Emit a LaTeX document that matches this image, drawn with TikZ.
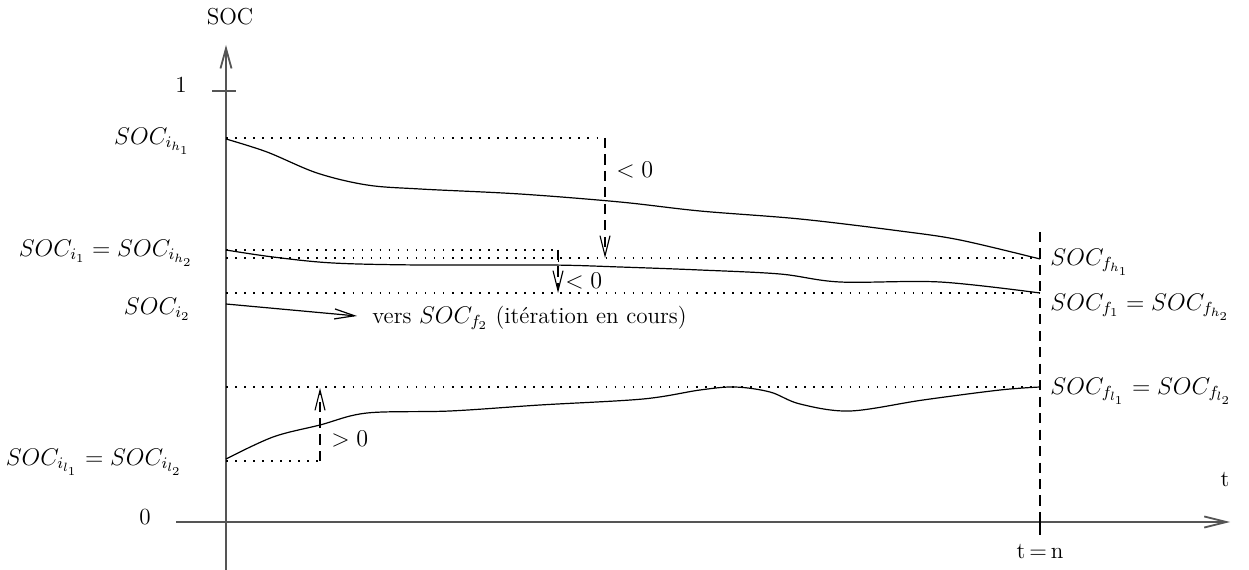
\documentclass[tikz,border=0pt]{standalone}
\usepackage{tikz}
\usetikzlibrary{arrows.meta,positioning}
\definecolor{axisgray}{RGB}{85,85,85}

\tikzset{
    axisline/.style={axisgray, line width=0.9pt},
    levelline/.style={dash pattern=on 0.8pt off 3.7pt, line width=0.7pt},
    gapline/.style={dash pattern=on 5pt off 3.2pt, line width=0.55pt},
    traj/.style={line width=0.6pt},
    openhead/.style={-{Straight Barb[length=10pt,width=5pt]}},
    lab/.style={inner sep=1pt, font=\fontsize{11.5}{13.5}\selectfont},
}

\begin{document}
\begin{tikzpicture}[x=0.0175cm, y=-0.0175cm]
    \useasboundingbox (0,0) rectangle (1249,570);

    % axes
    \coordinate (ybot) at (226,570);
    \coordinate (ytop) at (226,45);
    \coordinate (xleft) at (176,522);
    \coordinate (xright) at (1230,522);
    \draw[axisline, -{Straight Barb[length=10pt,width=5.5pt]}] (ybot) -- (ytop);
    \draw[axisline, -{Straight Barb[length=11pt,width=5.5pt]}] (xleft) -- (xright);
    \draw[axisline] (212,91) coordinate (tickl) -- (236,91) coordinate (tickr);
    \node[lab] (soc) at (230,17) {SOC};
    \node[lab] (one) at (181,85) {1};
    \node[lab] (zero) at (145,517) {0};
    \node[lab] (t) at (1225,480) {t};

    % final time
    \coordinate (ntop) at (1040,232);
    \coordinate (nbot) at (1040,535);
    \draw[gapline] (ntop) -- (nbot);
    \draw[line width=0.6pt] (1040,512) -- (nbot);
    \node[lab] (tn) at (1040,552) {t\,=\,n};

    % initial and final levels
    \draw[levelline] (226,138) coordinate (h1a) -- (605,138) coordinate (h1b);
    \draw[levelline] (226,250) coordinate (h2a) -- (558,250) coordinate (h2b);
    \draw[line width=0.5pt] (h2b) -- (558,262);
    \draw[levelline] (226,258) coordinate (fh1a) -- (1040,258) coordinate (fh1b);
    \draw[levelline] (226,293) coordinate (f1a) -- (1040,293) coordinate (f1b);
    \draw[levelline] (226,387) coordinate (fla) -- (1040,387) coordinate (flb);
    \draw[levelline] (226,461) coordinate (ila) -- (320,461) coordinate (ilb);

    % gaps
    \coordinate (g1) at (605,258);
    \coordinate (g2) at (558,293);
    \coordinate (g3) at (320,388);
    \draw[gapline, openhead] (h1b) -- (g1);
    \draw[gapline, openhead] (h2b) -- (g2);
    \draw[gapline, openhead] (ilb) -- (g3);
    \node[lab, anchor=west] (neg1) at (614,170) {$<0$};
    \node[lab, anchor=west] (neg2) at (563,281) {$<0$};
    \node[lab, anchor=west] (pos1) at (329,439) {$>0$};

    % trajectories
    \draw[traj] plot[smooth, tension=0.55] coordinates {
        (226,139) (267,152) (317,173) (367,185) (420,189) (520,194)
        (620,202) (700,211) (800,219) (900,231) (960,240) (1040,259)
    };
    \draw[traj] plot[smooth, tension=0.55] coordinates {
        (226,250) (273,257) (333,263) (420,265) (550,265) (620,267)
        (700,270) (780,274) (840,282) (940,282) (1040,293)
    };
    \draw[traj] plot[smooth, tension=0.55] coordinates {
        (226,459) (273,437) (320,425) (367,413) (450,411) (540,405)
        (643,399) (700,390) (735,387) (770,392) (800,404) (850,411)
        (923,400) (1000,390) (1040,387)
    };

    % current iteration
    \coordinate (i2start) at (226,304);
    \coordinate (i2tip) at (357,316);
    \draw[traj, openhead] (i2start) -- (i2tip);
    \node[lab, anchor=west] (vers) at (370,318) {vers $SOC_{f_2}$ (itération en cours)};

    % level labels
    \node[lab, anchor=east] (sih1) at (193,141) {$SOC_{i_{h_1}}$};
    \node[lab, anchor=east] (si1) at (196,253) {$SOC_{i_1}=SOC_{i_{h_2}}$};
    \node[lab, anchor=east] (si2) at (193,309) {$SOC_{i_2}$};
    \node[lab, anchor=east] (sil) at (185,462) {$SOC_{i_{l_1}}=SOC_{i_{l_2}}$};
    \node[lab, anchor=west] (sfh1) at (1048,262) {$SOC_{f_{h_1}}$};
    \node[lab, anchor=west] (sf1) at (1048,307) {$SOC_{f_1}=SOC_{f_{h_2}}$};
    \node[lab, anchor=west] (sfl) at (1048,391) {$SOC_{f_{l_1}}=SOC_{f_{l_2}}$};

\end{tikzpicture}
\end{document}
